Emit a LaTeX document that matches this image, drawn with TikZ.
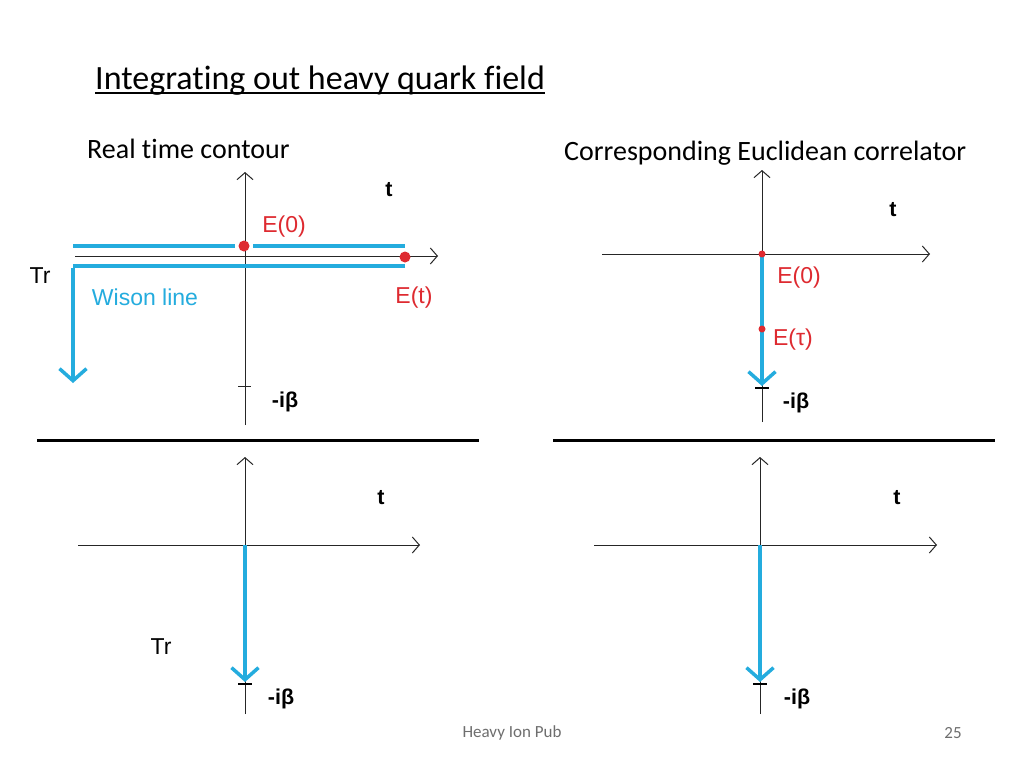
\documentclass[tikz,border=0pt]{standalone}
\usepackage{fontspec}
\setmainfont{Carlito}[Ligatures=NoCommon]
\newfontfamily\arialf{Liberation Sans}
\usetikzlibrary{arrows.meta}
\definecolor{wcyan}{RGB}{36,172,222}
\definecolor{ered}{RGB}{222,42,48}
\definecolor{footgrey}{RGB}{110,110,110}
\tikzset{
  axis/.style={draw=black!85, line width=1pt, -{Straight Barb[length=7pt,width=16pt,line width=1pt]}},
  plainaxis/.style={draw=black!85, line width=1pt},
  wline/.style={draw=wcyan, line width=4.5pt},
  warrow/.style={draw=wcyan, line width=4pt, -{Straight Barb[length=12pt,width=27pt,line width=3.5pt]}},
  tickmark/.style={draw=black, line width=1.6pt},
  dot/.style={circle, fill=ered, inner sep=0pt, minimum size=#1},
  lab/.style={font=\arialf\fontsize{23}{27}\selectfont, inner sep=0pt},
  blab/.style={font=\arialf\bfseries\fontsize{21.5}{25}\selectfont, inner sep=0pt},
  redlab/.style={lab, text=ered},
  heading/.style={font=\fontsize{28}{32}\selectfont, inner sep=0pt},
  sep/.style={draw=black, line width=3pt},
}
\begin{document}
\begin{tikzpicture}[x=1pt,y=-1pt]
\useasboundingbox[fill=white] (0,0) rectangle (1024,768);

% title
\node[font=\fontsize{34}{38}\selectfont, inner sep=0pt, anchor=base west] (title) at (95,89) {Integrating out heavy quark field};
\coordinate (ul1) at ([yshift=-4pt]title.base west);
\coordinate (ul2) at ([yshift=-4pt]title.base east);
\draw[line width=1.3pt] (ul1) -- (ul2);

\node[heading, anchor=west] (h1) at (87,149) {Real time contour};
\node[heading, anchor=west] (h2) at (564,153) {Corresponding Euclidean correlator};

% separators
\coordinate (s1a) at (37,440); \coordinate (s1b) at (479,440);
\coordinate (s2a) at (553,440); \coordinate (s2b) at (995,440);
\draw[sep] (s1a) -- (s1b);
\draw[sep] (s2a) -- (s2b);

% ---------- panel 1 ----------
\coordinate (p1vb) at (245,425); \coordinate (p1vt) at (245,172);
\coordinate (p1hl) at (75,256); \coordinate (p1hr) at (438,256);
\draw[axis] (p1vb) -- (p1vt);
\draw[axis] (p1hl) -- (p1hr);
\coordinate (u1) at (73,246); \coordinate (u2) at (235,246);
\coordinate (u3) at (253,246); \coordinate (u4) at (405,246);
\draw[wline] (u1) -- (u2);
\draw[wline] (u3) -- (u4);
\coordinate (l1) at (405,266); \coordinate (l2) at (73,266); \coordinate (l3) at (73,383);
\draw[wline] (l1) -- (l2);
\draw[warrow] ([yshift=-2.25pt]l2) -- (l3);
\node[dot=11pt] (d1) at (244,246) {};
\node[dot=11pt] (d2) at (405,257) {};
\coordinate (tk1a) at (238,386); \coordinate (tk1b) at (251,386);
\draw[plainaxis] (tk1a) -- (tk1b);
\node[blab] (t1) at (389,190) {t};
\node[redlab] (e0a) at (284,227) {E(0)};
\node[redlab] (eta) at (414,298) {E(t)};
\node[lab, text=wcyan] (wl) at (145,297) {Wison line};
\node[blab] (ib1) at (285,402) {-iβ};
\node[lab] (tr1) at (40,276) {Tr};

% ---------- panel 2 ----------
\coordinate (p2vb) at (762,422); \coordinate (p2vt) at (762,170);
\coordinate (p2hl) at (602,254); \coordinate (p2hr) at (930,254);
\draw[axis] (p2vb) -- (p2vt);
\draw[axis] (p2hl) -- (p2hr);
\coordinate (c2a) at (762,256); \coordinate (c2b) at (762,386);
\draw[warrow] (c2a) -- (c2b);
\draw[tickmark] (755,388) coordinate (tk2a) -- (769,388) coordinate (tk2b);
\node[dot=7pt] (d3) at (762,254) {};
\node[dot=7pt] (d4) at (762,329) {};
\node[blab] (t2) at (893,210) {t};
\node[redlab] (e0b) at (799,278) {E(0)};
\node[redlab] (etb) at (793,340) {E(τ)};
\node[blab] (ib2) at (796,403) {-iβ};

% ---------- panel 3 ----------
\coordinate (p3vb) at (245,714); \coordinate (p3vt) at (245,457);
\coordinate (p3hl) at (78,545); \coordinate (p3hr) at (420,545);
\draw[axis] (p3vb) -- (p3vt);
\draw[axis] (p3hl) -- (p3hr);
\coordinate (c3a) at (245,545); \coordinate (c3b) at (245,682);
\draw[warrow] (c3a) -- (c3b);
\draw[tickmark] (238,684) coordinate (tk3a) -- (252,684) coordinate (tk3b);
\node[blab] (t3) at (381,498) {t};
\node[lab] (tr3) at (161,647) {Tr};
\node[blab] (ib3) at (281,699) {-iβ};

% ---------- panel 4 ----------
\coordinate (p4vb) at (760,714); \coordinate (p4vt) at (760,457);
\coordinate (p4hl) at (594,545); \coordinate (p4hr) at (937,545);
\draw[axis] (p4vb) -- (p4vt);
\draw[axis] (p4hl) -- (p4hr);
\coordinate (c4a) at (760,545); \coordinate (c4b) at (760,682);
\draw[warrow] (c4a) -- (c4b);
\draw[tickmark] (753,684) coordinate (tk4a) -- (767,684) coordinate (tk4b);
\node[blab] (t4) at (897,498) {t};
\node[blab] (ib4) at (797,699) {-iβ};

% footer
\node[font=\fontsize{17}{20}\selectfont, text=footgrey, inner sep=0pt] (foot) at (512,733) {Heavy Ion Pub};
\node[font=\fontsize{17}{20}\selectfont, text=footgrey, inner sep=0pt] (pg) at (953,733) {25};
\end{tikzpicture}
\end{document}
